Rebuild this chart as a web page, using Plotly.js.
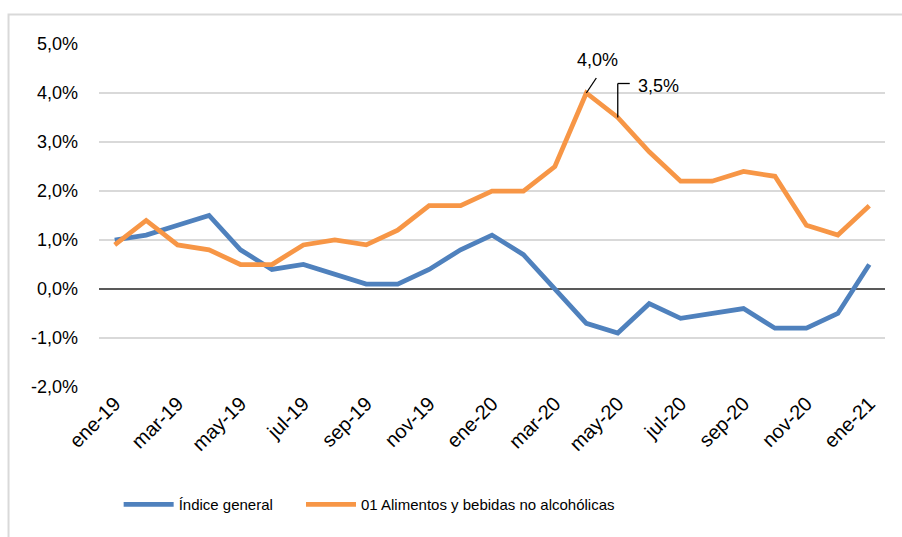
<!DOCTYPE html>
<html>
<head>
<meta charset="utf-8">
<script src="https://cdn.plot.ly/plotly-3.0.1.min.js"></script>
<style>
  html, body { margin: 0; padding: 0; background: #fff; }
  #chart { width: 902px; height: 537px; }
</style>
</head>
<body>
<div id="chart"></div>
<script>
const months = ['ene-19','feb-19','mar-19','abr-19','may-19','jun-19','jul-19','ago-19','sep-19','oct-19','nov-19','dic-19',
                'ene-20','feb-20','mar-20','abr-20','may-20','jun-20','jul-20','ago-20','sep-20','oct-20','nov-20','dic-20','ene-21'];
const indiceGeneral = [1.0,1.1,1.3,1.5,0.8,0.4,0.5,0.3,0.1,0.1,0.4,0.8,1.1,0.7,0.0,-0.7,-0.9,-0.3,-0.6,-0.5,-0.4,-0.8,-0.8,-0.5,0.5];
const alimentos = [0.9,1.4,0.9,0.8,0.5,0.5,0.9,1.0,0.9,1.2,1.7,1.7,2.0,2.0,2.5,4.0,3.5,2.8,2.2,2.2,2.4,2.3,1.3,1.1,1.7];
const seriesNames = ['Índice general','01 Alimentos y bebidas no alcohólicas'];
const yTickVals = [-2,-1,0,1,2,3,4,5];
const labelledIdx = [15,16];

const FONT = 'Liberation Sans, Arial, sans-serif';
const BLUE = '#4f81bd', ORANGE = '#f79646';

const fmt = v => v.toFixed(1).replace('.', ',') + '%';

const traces = [
  {x: months, y: indiceGeneral, name: seriesNames[0], type: 'scatter', mode: 'lines',
   line: {color: BLUE, width: 4.75}, hoverinfo: 'x+y', legend: 'legend'},
  {x: months, y: alimentos, name: seriesNames[1], type: 'scatter', mode: 'lines',
   line: {color: ORANGE, width: 4.75}, hoverinfo: 'x+y', legend: 'legend2'}
];

const legendBase = {orientation: 'h', xanchor: 'left', y: -0.343, yanchor: 'middle',
                    font: {family: FONT, size: 15, color: '#000'}, itemwidth: 50,
                    bgcolor: 'rgba(0,0,0,0)'};

const i1 = labelledIdx[0], i2 = labelledIdx[1];
const layout = {
  width: 902, height: 537,
  margin: {l: 99, r: 17, t: 44, b: 150},
  paper_bgcolor: '#ffffff', plot_bgcolor: '#ffffff',
  separators: ',.',
  font: {family: FONT, size: 17.5, color: '#000'},
  showlegend: true,
  legend: Object.assign({}, legendBase, {x: 0.025}),
  legend2: Object.assign({}, legendBase, {x: 0.257}),
  xaxis: {type: 'category', tickmode: 'linear', tick0: 0, dtick: 2, tickangle: -45,
          showgrid: false, zeroline: false, showline: false, ticks: '',
          range: [-0.5, months.length - 0.5], fixedrange: true,
          tickfont: {family: FONT, size: 20, color: '#000'}},
  yaxis: {range: [-2, 5], tickvals: yTickVals, ticktext: yTickVals.map(fmt),
          showgrid: true, gridcolor: '#d9d9d9', gridwidth: 1.5,
          zeroline: true, zerolinecolor: '#595959', zerolinewidth: 1.5,
          showline: false, ticks: '', ticklabelstandoff: 20, fixedrange: true,
          tickfont: {family: FONT, size: 18, color: '#000'}},
  shapes: [
    {type: 'rect', xref: 'paper', yref: 'paper', x0: -0.1151, x1: 1.04, y0: -0.48, y1: 1.086,
     line: {color: '#d9d9d9', width: 2}, fillcolor: 'rgba(0,0,0,0)', layer: 'below'},
    {type: 'line', xref: 'x', yref: 'y', xsizemode: 'pixel', ysizemode: 'pixel',
     xanchor: months[i1], yanchor: alimentos[i1], x0: 0, x1: 10, y0: 0, y1: 15,
     line: {color: '#000', width: 1.3}},
    {type: 'line', xref: 'x', yref: 'y', xsizemode: 'pixel', ysizemode: 'pixel',
     xanchor: months[i2], yanchor: alimentos[i2], x0: 0, x1: 0, y0: 0, y1: 34,
     line: {color: '#000', width: 1.3}},
    {type: 'line', xref: 'x', yref: 'y', xsizemode: 'pixel', ysizemode: 'pixel',
     xanchor: months[i2], yanchor: alimentos[i2], x0: 0, x1: 12, y0: 34, y1: 34,
     line: {color: '#000', width: 1.3}}
  ],
  annotations: [
    {x: months[i1], y: alimentos[i1], text: fmt(alimentos[i1]), showarrow: false,
     xanchor: 'center', yanchor: 'middle', xshift: 11, yshift: 33,
     font: {family: FONT, size: 18, color: '#000'}},
    {x: months[i2], y: alimentos[i2], text: fmt(alimentos[i2]), showarrow: false,
     xanchor: 'left', yanchor: 'middle', xshift: 18, yshift: 32,
     font: {family: FONT, size: 18, color: '#000'}}
  ]
};

Plotly.newPlot('chart', traces, layout, {displayModeBar: false, staticPlot: true});
</script>
</body>
</html>
